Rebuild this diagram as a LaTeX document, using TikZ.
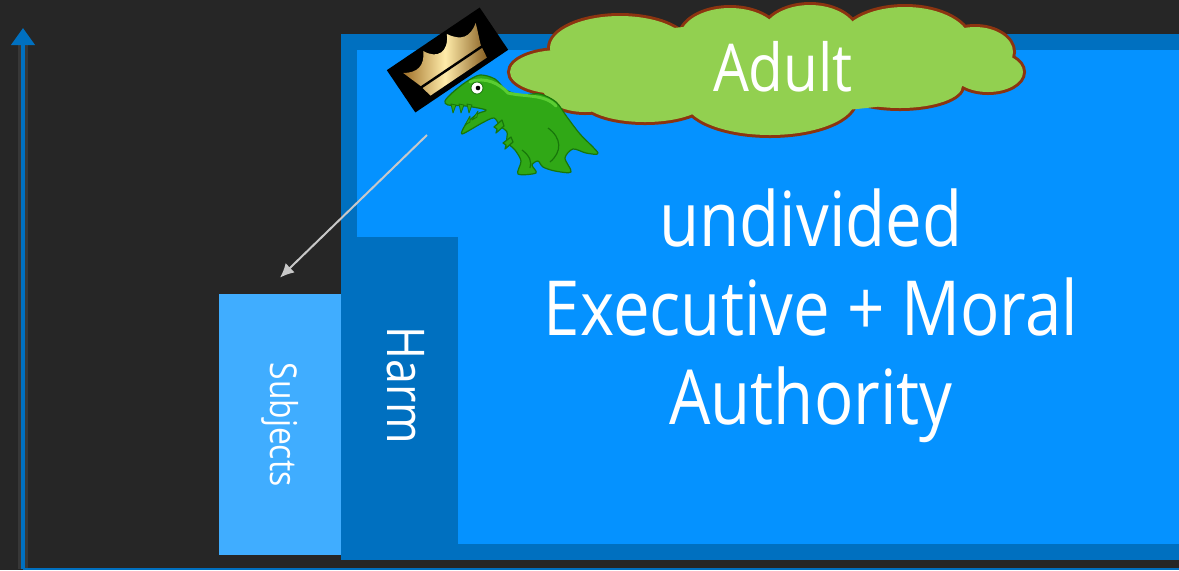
\documentclass[tikz,border=0pt]{standalone}
\usepackage{fontspec}
\setmainfont{Open Sans}[FakeStretch=0.86]
\usetikzlibrary{arrows.meta}

\definecolor{slide}{RGB}{38,38,38}
\definecolor{deepblue}{RGB}{0,112,192}
\definecolor{brightblue}{RGB}{5,146,255}
\definecolor{paleblue}{RGB}{64,173,255}
\definecolor{leaf}{RGB}{146,208,80}
\definecolor{rust}{RGB}{140,52,16}
\definecolor{arrowgray}{RGB}{200,200,200}
\definecolor{rexgreen}{RGB}{48,168,22}
\definecolor{rexlight}{RGB}{90,205,50}
\definecolor{rexdark}{RGB}{24,118,10}
\definecolor{goldlight}{RGB}{255,236,170}
\definecolor{golddark}{RGB}{160,112,40}

\tikzset{
  slidetext/.style={text=white, inner sep=0pt},
  rexbody/.style={fill=rexgreen, draw=rexdark, line width=.6pt, line join=round},
  rextooth/.style={fill=rexgreen, draw=rexdark, line width=.4pt, line join=round},
}

\begin{document}
\begin{tikzpicture}[x=0.5pt, y=-0.5pt, >=Latex]
  \fill[slide] (0,0) rectangle (1179,570);
  \useasboundingbox (0,0) rectangle (1179,570);

  % axes
  \coordinate (origin) at (23,569);
  \coordinate (ytop) at (23,28);
  \coordinate (xend) at (1179,569);
  \draw[white, opacity=.08, line width=5pt] (origin) -- (23,40);
  \draw[deepblue, line width=1pt] (origin) -- (xend);
  \draw[deepblue, line width=2pt, -{Triangle[width=11.5pt,length=8.5pt]}] (origin) -- (ytop);

  % blocks
  \fill[deepblue] (341,34) rectangle (1179,560);
  \fill[brightblue] (357,50) rectangle (1179,544);
  \fill[deepblue] (341,237) rectangle (458,560);
  \node[slidetext, rotate=-90, font=\fontsize{26}{30}\selectfont] (harm) at (406,385) {Harm};
  \node[fill=paleblue, text=white, rotate=-90, minimum width=130.5pt, minimum height=61pt,
        font=\fontsize{18.5}{20}\selectfont] (subjects) at (280,424.5) {Subjects};
  \node[slidetext, align=center, font=\fontsize{38}{44.5}\selectfont] (authority) at (811,316)
    {undivided\\Executive + Moral\\Authority};

  % cloud: puffs outlined, then filled over
  \foreach \cx/\cy/\rx/\ry in {560/72/50/22, 620/48/70/32, 730/38/50/30, 810/36/48/31,
      905/42/65/35, 975/52/38/25, 988/72/35/20, 900/86/62/22, 770/100/85/35,
      645/100/62/22, 585/88/42/24}
    \draw[rust, line width=3pt] (\cx,\cy) ellipse [x radius=\rx, y radius=\ry];
  \foreach \cx/\cy/\rx/\ry in {560/72/50/22, 620/48/70/32, 730/38/50/30, 810/36/48/31,
      905/42/65/35, 975/52/38/25, 988/72/35/20, 900/86/62/22, 770/100/85/35,
      645/100/62/22, 585/88/42/24, 770/68/210/45}
    \fill[leaf] (\cx,\cy) ellipse [x radius=\rx, y radius=\ry];
  \node[slidetext, font=\fontsize{33}{40}\selectfont] (adult) at (783,67) {Adult};

  % crown
  \begin{scope}[shift={(447.5,60)}, rotate=34]
    \fill[black] (-56,-25.5) rectangle (56,25.5);
    \shade[left color=golddark, right color=golddark!85!black, middle color=goldlight]
      (-34,20) -- (-37,6) .. controls (-39,0) and (-42,-8) .. (-44,-14)
      .. controls (-32,-6) and (-22,-8) .. (-15,-21)
      .. controls (-8,-6) and (6,-6) .. (14,-22)
      .. controls (22,-8) and (32,-6) .. (44,-15)
      .. controls (41,-6) and (38,0) .. (36,6) -- (34,20) -- cycle;
    \draw[black, line width=1.2pt] (-39,8) -- (38,8);
  \end{scope}

  % t-rex
  \filldraw[rexbody] plot[smooth cycle, tension=.5] coordinates {
    (445,101) (452,93) (466,82) (480,75) (495,79) (506,90) (520,95) (540,94)
    (556,102) (567,117) (580,134) (598,153) (586,153) (573,149) (565,158)
    (571,172) (555,171) (543,167) (538,161) (532,165) (536,173) (518,174)
    (521,161) (515,150) (507,142) (507,132) (500,126) (494,118) (482,123)
    (462,134) (466,124) (477,114) (486,110) (466,106) (448,105)};
  \draw[rexlight, line width=1.5pt, line cap=round] (470,82) .. controls (485,76) and (500,84) .. (508,93)
    .. controls (525,97) and (545,94) .. (556,106);
  \draw[rexdark, line width=.6pt] (548,128) .. controls (562,138) and (562,152) .. (550,162);
  \draw[rexdark, line width=.6pt] (522,150) .. controls (530,156) and (532,162) .. (530,168);
  \foreach \tx in {451,459,467}
    \filldraw[rextooth] (\tx,104) -- (\tx+5,105) -- (\tx+2,113) -- cycle;
  \filldraw[rextooth] (465,125) -- (470,122) -- (470,116) -- cycle;
  \filldraw[rextooth] (472,120) -- (477,117) -- (478,111) -- cycle;
  \filldraw[rexbody] (502,120) -- (494,127) -- (497,129) -- (496,133) -- (504,126) -- cycle;
  \filldraw[rexbody] (511,137) -- (503,143) -- (506,145) -- (505,149) -- (513,142) -- cycle;
  \filldraw[fill=white, draw=rexdark, line width=.4pt] (477,88) circle (6);
  \fill[black] (478,88) circle (2.3);

  % arrow down to the subjects
  \coordinate (rexhand) at (427,135);
  \draw[arrowgray, line width=1pt, -{Latex[length=7pt,width=6.5pt]}] (rexhand) -- ([yshift=8pt]subjects.west);
\end{tikzpicture}
\end{document}
